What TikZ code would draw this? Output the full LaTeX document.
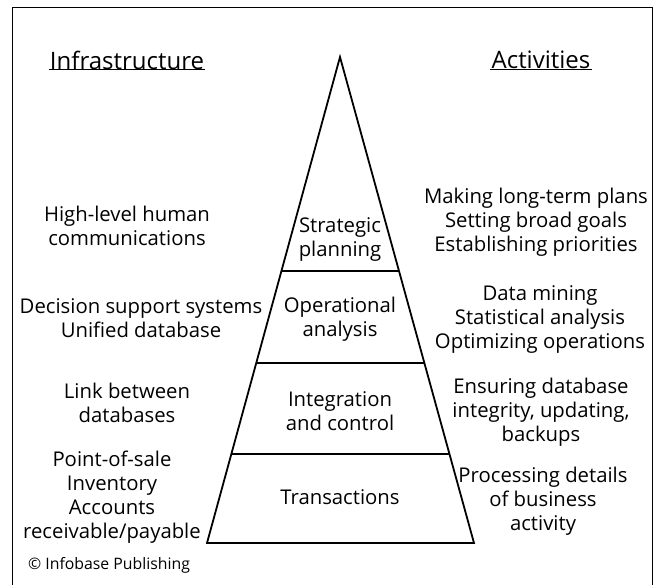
\documentclass[tikz,border=0pt]{standalone}
\usepackage{fontspec}
\setmainfont{Open Sans}
\usetikzlibrary{calc,positioning}

\tikzset{
  txt/.style={align=center,font=\fontsize{20.3}{24}\selectfont,inner sep=0pt},
  head/.style={font=\fontsize{24}{26}\selectfont,inner sep=1pt},
  tier/.style={line width=1.8pt,line join=miter},
}

\begin{document}
\begin{tikzpicture}[x=1pt,y=-1pt]
    \useasboundingbox (0,0) rectangle (656,584);
    % frame
    \draw[line width=1pt] (12,590) -- (12,7) -- (652,7) -- (652,590);
    % headings
    \node[head] (infra) at (127,60) {Infrastructure};
    \node[head] (act) at (541,60) {Activities};
    \draw[line width=1pt] ($(infra.south west)+(0,-1)$) -- ($(infra.south east)+(0,-1)$);
    \draw[line width=1pt] ($(act.south west)+(0,-1)$) -- ($(act.south east)+(0,-1)$);
    % pyramid
    \coordinate (apex) at (340,57);
    \coordinate (bl) at (207,543);
    \coordinate (br) at (474,543);
    \draw[tier] (bl) -- (apex) -- (br) -- cycle;
    \draw[tier] ($(apex)!0.440!(bl)$) -- ($(apex)!0.440!(br)$);
    \draw[tier] ($(apex)!0.630!(bl)$) -- ($(apex)!0.630!(br)$);
    \draw[tier] ($(apex)!0.817!(bl)$) -- ($(apex)!0.817!(br)$);
    % tiers
    \node[txt] (strat) at (340,239) {Strategic\\planning};
    \node[txt] (oper) at (340,319) {Operational\\analysis};
    \node[txt] (integ) at (340,411) {Integration\\and control};
    \node[txt] (trans) at (340,497) {Transactions};
    % infrastructure
    \node[txt] (human) at (127,226) {High-level human\\communications};
    \node[txt] (dss) at (141,318) {Decision support systems\\Unified database};
    \node[txt] (link) at (127,403) {Link between\\databases};
    \node[txt] (pos) at (112,497) {Point-of-sale\\Inventory\\Accounts\\receivable/payable};
    % activities
    \node[txt] (plans) at (536,222) {Making long-term plans\\Setting broad goals\\Establishing priorities};
    \node[txt] (mining) at (540,319) {Data mining\\Statistical analysis\\Optimizing operations};
    \node[txt] (ensure) at (541,412) {Ensuring database\\integrity, updating,\\backups};
    \node[txt] (proc) at (543,501) {Processing details\\of business\\activity};
    % credit
    \node[anchor=west,font=\fontsize{15.8}{17}\selectfont,inner sep=0pt] (credit) at (28,565) {© Infobase Publishing};
\end{tikzpicture}
\end{document}
